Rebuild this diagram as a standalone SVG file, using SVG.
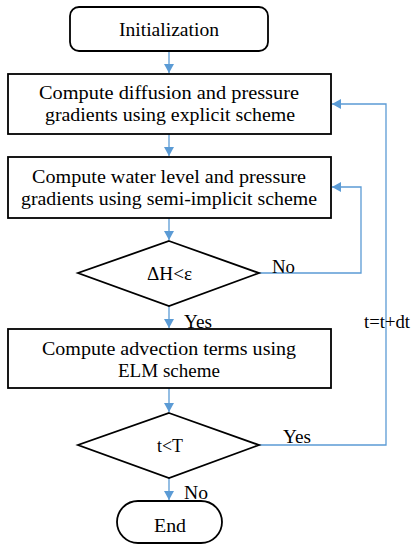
<svg xmlns="http://www.w3.org/2000/svg" width="413" height="550" viewBox="0 0 413 550">
<defs>
<marker id="ah" markerWidth="10" markerHeight="10" refX="9" refY="5" orient="auto" markerUnits="userSpaceOnUse">
<path d="M0,0 L9,5 L0,10 Z" fill="#5B9BD5"/>
</marker>
<style>
.n{fill:#fff;stroke:#000;stroke-width:1.8}
.c{fill:none;stroke:#5B9BD5;stroke-width:1.3}
text{font-family:"Liberation Serif","Times New Roman",serif;font-size:19.5px;fill:#000}
.m{text-anchor:middle}
</style>
</defs>
<g id="connectors">
<line class="c" x1="169" y1="51" x2="169" y2="73" marker-end="url(#ah)"/>
<line class="c" x1="169" y1="134" x2="169" y2="156" marker-end="url(#ah)"/>
<line class="c" x1="169" y1="218" x2="169" y2="240" marker-end="url(#ah)"/>
<line class="c" x1="169" y1="306" x2="169" y2="328" marker-end="url(#ah)"/>
<line class="c" x1="169" y1="388" x2="169" y2="412" marker-end="url(#ah)"/>
<line class="c" x1="169" y1="478" x2="169" y2="500" marker-end="url(#ah)"/>
<polyline class="c" points="259,273 361,273 361,187 332,187" marker-end="url(#ah)"/>
<polyline class="c" points="259,445 386,445 386,104 332,104" marker-end="url(#ah)"/>
<text x="272" y="273" textLength="23" lengthAdjust="spacingAndGlyphs">No</text>
<text x="184" y="328" textLength="28" lengthAdjust="spacingAndGlyphs">Yes</text>
<text x="283" y="443" textLength="28" lengthAdjust="spacingAndGlyphs">Yes</text>
<text x="184" y="499" textLength="24" lengthAdjust="spacingAndGlyphs">No</text>
<text x="364" y="328" textLength="46" lengthAdjust="spacingAndGlyphs">t=t+dt</text>
</g>
<g id="init">
<rect class="n" x="70" y="7" width="198" height="44" rx="9"/>
<text class="m" x="169" y="36" textLength="100" lengthAdjust="spacingAndGlyphs">Initialization</text>
</g>
<g id="explicit">
<rect class="n" x="8" y="74" width="323" height="60"/>
<text class="m" x="169" y="99" textLength="260" lengthAdjust="spacingAndGlyphs">Compute diffusion and pressure</text>
<text class="m" x="170" y="121" textLength="250" lengthAdjust="spacingAndGlyphs">gradients using explicit scheme</text>
</g>
<g id="semiimplicit">
<rect class="n" x="8" y="157" width="323" height="61"/>
<text class="m" x="169" y="183" textLength="274" lengthAdjust="spacingAndGlyphs">Compute water level and pressure</text>
<text class="m" x="169" y="205" textLength="296" lengthAdjust="spacingAndGlyphs">gradients using semi-implicit scheme</text>
</g>
<g id="check1">
<polygon class="n" points="169,241 259,273 169,306 78,273"/>
<text class="m" x="169.5" y="280" textLength="45" lengthAdjust="spacingAndGlyphs">ΔH&lt;ε</text>
</g>
<g id="advection">
<rect class="n" x="8" y="329" width="323" height="59"/>
<text class="m" x="169" y="355" textLength="254" lengthAdjust="spacingAndGlyphs">Compute advection terms using</text>
<text class="m" x="169" y="377" textLength="102" lengthAdjust="spacingAndGlyphs">ELM scheme</text>
</g>
<g id="check2">
<polygon class="n" points="169,413 259,445 169,478 78,445"/>
<text class="m" x="170" y="452" textLength="26" lengthAdjust="spacingAndGlyphs">t&lt;T</text>
</g>
<g id="end">
<rect class="n" x="117" y="501" width="105" height="42" rx="21"/>
<text class="m" x="170" y="532" textLength="32" lengthAdjust="spacingAndGlyphs">End</text>
</g>
</svg>
